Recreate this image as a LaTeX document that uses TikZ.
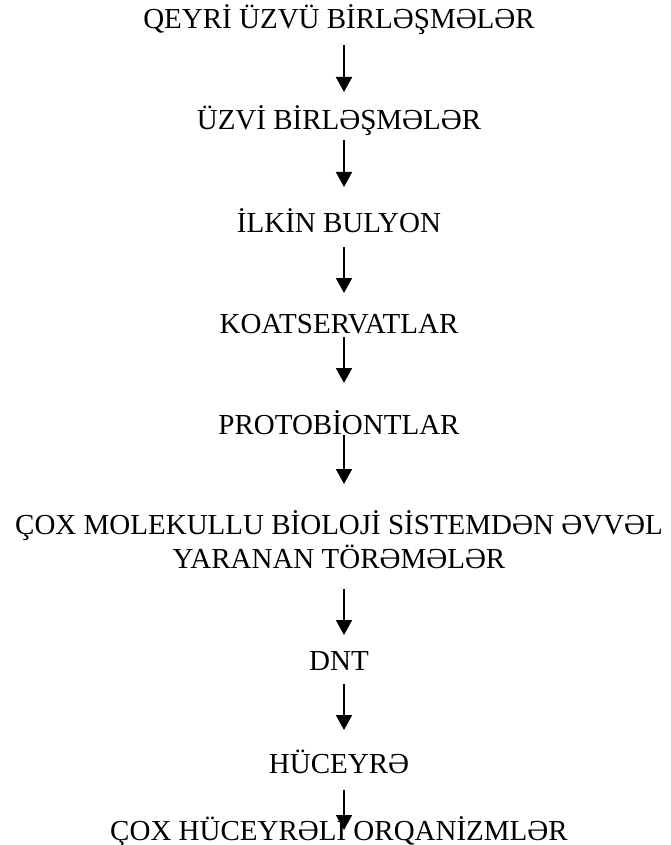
\documentclass[tikz,border=0pt]{standalone}
\usepackage{fontspec}
\setmainfont{Liberation Serif}
\usetikzlibrary{arrows.meta}

\begin{document}
\begin{tikzpicture}[x=1pt, y=1pt, >={Triangle[width=16pt,length=15pt]},
    stage/.style={anchor=base, inner sep=0pt, font=\fontsize{29}{34}\selectfont},
    flow/.style={->, line width=1.8pt}]
    \useasboundingbox (0,0) rectangle (670,-845);
    % stages, text centred at x=339
    \node[stage] (t1) at (339,-29) {QEYRİ ÜZVÜ BİRLƏŞMƏLƏR};
    \node[stage] (t2) at (339,-130) {ÜZVİ BİRLƏŞMƏLƏR};
    \node[stage] (t3) at (339,-232) {İLKİN BULYON};
    \node[stage] (t4) at (339,-333) {KOATSERVATLAR};
    \node[stage] (t5) at (339,-434) {PROTOBİONTLAR};
    \node[stage, align=center, anchor=north] (t6) at (339,-510) {ÇOX MOLEKULLU BİOLOJİ SİSTEMDƏN ƏVVƏL\\YARANAN TÖRƏMƏLƏR};
    \node[stage] (t7) at (339,-670) {DNT};
    \node[stage] (t8) at (339,-773) {HÜCEYRƏ};
    \node[stage] (t9) at (339,-840) {ÇOX HÜCEYRƏLİ ORQANİZMLƏR};
    % arrows, a little right of the text centre
    \draw[flow] ([shift={(5,-16)}]t1.base) -- ([shift={(5,38)}]t2.base);
    \draw[flow] ([shift={(5,-10)}]t2.base) -- ([shift={(5,45)}]t3.base);
    \draw[flow] ([shift={(5,-15)}]t3.base) -- ([shift={(5,40)}]t4.base);
    \draw[flow] ([shift={(5,-4)}]t4.base) -- ([shift={(5,51)}]t5.base);
    \draw[flow] ([shift={(5,-1)}]t5.base) -- ([shift={(5,26)}]t6.north);
    \draw[flow] ([shift={(5,-20)}]t6.south) -- ([shift={(5,35)}]t7.base);
    \draw[flow] ([shift={(5,-14)}]t7.base) -- ([shift={(5,43)}]t8.base);
    \draw[flow] ([shift={(5,-17)}]t8.base) -- ([shift={(5,10)}]t9.base);
\end{tikzpicture}
\end{document}
